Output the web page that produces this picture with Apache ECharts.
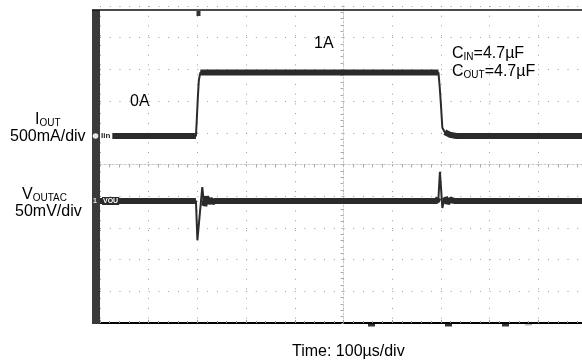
<!DOCTYPE html>
<html>
<head>
<meta charset="utf-8">
<script src="https://cdn.jsdelivr.net/npm/echarts@6/dist/echarts.min.js"></script>
<style>
  html, body { margin: 0; padding: 0; background: #fff; }
  #chart { width: 582px; height: 363px; }
</style>
</head>
<body>
<div id="chart"></div>
<script>
// time in µs, 0 = centre of screen, 100 µs/div
const iTime = [-500, -303, -301, -299, -297, -294, 195, 197.5, 200, 203, 208, 218, 232, 500];
const iAmps = [0, 0, 0.3, 0.62, 0.88, 1.0, 1.0, 0.78, 0.5, 0.13, 0.06, 0.02, 0, 0];

const vTime = [-500, -303, -300, -290, -286, -282, -278, -274, -269, -264, 192, 195, 198, 203, 208, 213, 219, 227, 500];
const vMilliVolts = [0, 0, -62, 22, -8, 7, -4, 3, -2, 0, 0, 5, 46, -11, 6, -3, 2, 0, 0];

// scope settings
const timeMin = -500, timeMax = 500, timePerDiv = 100;
const ampsPerDiv = 0.5, iZeroDiv = 0.9;     // ch2 0A marker, divs above centre
const mvPerDiv = 50, vZeroDiv = -1.15;      // ch1 marker

const traceColor = '#2b2b2b';
const font = 'Liberation Sans, Arial, sans-serif';

function pairs(xs, ys) {
  return xs.map((x, i) => [x, ys[i]]);
}
// flat parts of a trace are drawn as a thick noisy band
function band(data, levels, tol) {
  return data.map(p => levels.some(l => Math.abs(p[1] - l) <= tol) ? p : [p[0], null]);
}

const iData = pairs(iTime, iAmps);
const vData = pairs(vTime, vMilliVolts);

const chart = echarts.init(document.getElementById('chart'));

const dotted = { color: '#9a9a9a', width: 1, type: [1, 8.74] };
const sub = () => ({
  m: { fontSize: 16, fontFamily: font, fill: '#000', lineHeight: 16 },
  s: { fontSize: 10, fontFamily: font, fill: '#000', lineHeight: 10, verticalAlign: 'bottom' }
});

const option = {
  animation: false,
  grid: { left: 100, top: 6, width: 487, height: 317, outerBoundsMode: 'none', containLabel: false },
  xAxis: [
    {
      type: 'value', min: timeMin, max: timeMax, interval: timePerDiv,
      axisLine: { onZero: true, onZeroAxisIndex: 0, lineStyle: { color: '#c8c8c8', width: 1, type: [2, 2] } },
      axisTick: { show: true, length: 2, lineStyle: { color: '#aaa' } },
      minorTick: { show: true, splitNumber: 5, length: 3, lineStyle: { color: '#aaa' } },
      axisLabel: { show: false },
      splitLine: { show: true, lineStyle: dotted }
    },
    {
      type: 'value', min: timeMin, max: timeMax, interval: timePerDiv, position: 'bottom',
      axisLine: { onZero: false, lineStyle: { color: '#000', width: 2 } },
      axisTick: { show: true, inside: true, length: 3, lineStyle: { color: '#999' } },
      minorTick: { show: true, splitNumber: 5, length: 2, lineStyle: { color: '#999' } },
      axisLabel: { show: false },
      splitLine: { show: false }
    }
  ],
  yAxis: [
    {
      type: 'value', min: -5, max: 5, interval: 1, position: 'left',
      axisLine: { onZero: true, onZeroAxisIndex: 0, lineStyle: { color: '#c8c8c8', width: 1, type: [2, 2] } },
      axisTick: { show: true, length: 2, lineStyle: { color: '#aaa' } },
      minorTick: { show: true, splitNumber: 5, length: 3, lineStyle: { color: '#aaa' } },
      axisLabel: { show: false },
      splitLine: { show: true, lineStyle: dotted }
    },
    {
      type: 'value', show: false, position: 'left',
      min: (-5 - iZeroDiv) * ampsPerDiv, max: (5 - iZeroDiv) * ampsPerDiv
    },
    {
      type: 'value', show: false, position: 'left',
      min: (-5 - vZeroDiv) * mvPerDiv, max: (5 - vZeroDiv) * mvPerDiv
    }
  ],
  series: [
    {
      name: 'IOUT band', type: 'line', yAxisIndex: 1, data: band(iData, [0, 1], 0.07),
      showSymbol: false, connectNulls: false, lineStyle: { color: traceColor, width: 6 }, z: 3
    },
    {
      name: 'IOUT', type: 'line', yAxisIndex: 1, data: iData,
      showSymbol: false, lineStyle: { color: traceColor, width: 2 }, z: 3
    },
    {
      name: 'VOUTAC band', type: 'line', yAxisIndex: 2, data: band(vData, [0], 8),
      showSymbol: false, connectNulls: false, lineStyle: { color: traceColor, width: 6 }, z: 3
    },
    {
      name: 'VOUTAC', type: 'line', yAxisIndex: 2, data: vData,
      showSymbol: false, lineStyle: { color: traceColor, width: 2 }, z: 3
    }
  ],
  graphic: [
    // frame: dark left bar and top line
    { type: 'rect', z: 10, shape: { x: 92, y: 10, width: 8, height: 314 }, style: { fill: '#3a3a3a' } },
    { type: 'line', z: 10, shape: { x1: 92, y1: 10, x2: 582, y2: 10 }, style: { stroke: '#111', lineWidth: 1.5 } },
    // trigger marker
    { type: 'rect', z: 10, shape: { x: 196.5, y: 11, width: 4, height: 5 }, style: { fill: '#333' } },
    // cursor markers under the bottom line
    { type: 'rect', z: 10, shape: { x: 368, y: 324, width: 7, height: 2.5 }, style: { fill: '#333' } },
    { type: 'rect', z: 10, shape: { x: 445, y: 324, width: 7, height: 2.5 }, style: { fill: '#333' } },
    { type: 'rect', z: 10, shape: { x: 502, y: 324, width: 7, height: 2.5 }, style: { fill: '#333' } },
    { type: 'rect', z: 10, shape: { x: 525, y: 324, width: 7, height: 1.5 }, style: { fill: '#bbb' } },
    // channel markers
    { type: 'circle', z: 11, shape: { cx: 95.5, cy: 136, r: 2.8 }, style: { fill: '#e6e6e6' } },
    {
      type: 'text', z: 11, x: 100, y: 136,
      style: { text: 'Iin', font: 'bold 8px ' + font, fill: '#222', textVerticalAlign: 'middle',
               backgroundColor: '#fff', padding: [1, 2, 1, 1] }
    },
    {
      type: 'text', z: 11, x: 93, y: 201,
      style: { text: '1', font: 'bold 7px ' + font, fill: '#eee', textVerticalAlign: 'middle' }
    },
    {
      type: 'text', z: 11, x: 102, y: 201,
      style: { text: 'VOU', font: 'bold 7px ' + font, fill: '#fff', textVerticalAlign: 'middle',
               backgroundColor: traceColor, padding: [1, 1, 0, 1] }
    },
    // annotations
    { type: 'text', x: 35, y: 120, style: { text: '{m|I}{s|OUT}', textVerticalAlign: 'middle', rich: sub() } },
    { type: 'text', x: 10, y: 137, style: { text: '500mA/div', font: '16px ' + font, fill: '#000', textVerticalAlign: 'middle' } },
    { type: 'text', x: 22, y: 195, style: { text: '{m|V}{s|OUTAC}', textVerticalAlign: 'middle', rich: sub() } },
    { type: 'text', x: 15, y: 212, style: { text: '50mV/div', font: '16px ' + font, fill: '#000', textVerticalAlign: 'middle' } },
    { type: 'text', x: 130, y: 102, style: { text: '0A', font: '16px ' + font, fill: '#000', textVerticalAlign: 'middle' } },
    { type: 'text', x: 314, y: 44, style: { text: '1A', font: '16px ' + font, fill: '#000', textVerticalAlign: 'middle' } },
    { type: 'text', x: 452, y: 54, style: { text: '{m|C}{s|IN}{m|=4.7µF}', textVerticalAlign: 'middle', rich: sub() } },
    { type: 'text', x: 452, y: 72, style: { text: '{m|C}{s|OUT}{m|=4.7µF}', textVerticalAlign: 'middle', rich: sub() } },
    { type: 'text', x: 292, y: 352, style: { text: 'Time: 100µs/div', font: '16px ' + font, fill: '#000', textVerticalAlign: 'middle' } }
  ]
};

chart.setOption(option);
</script>
</body>
</html>
